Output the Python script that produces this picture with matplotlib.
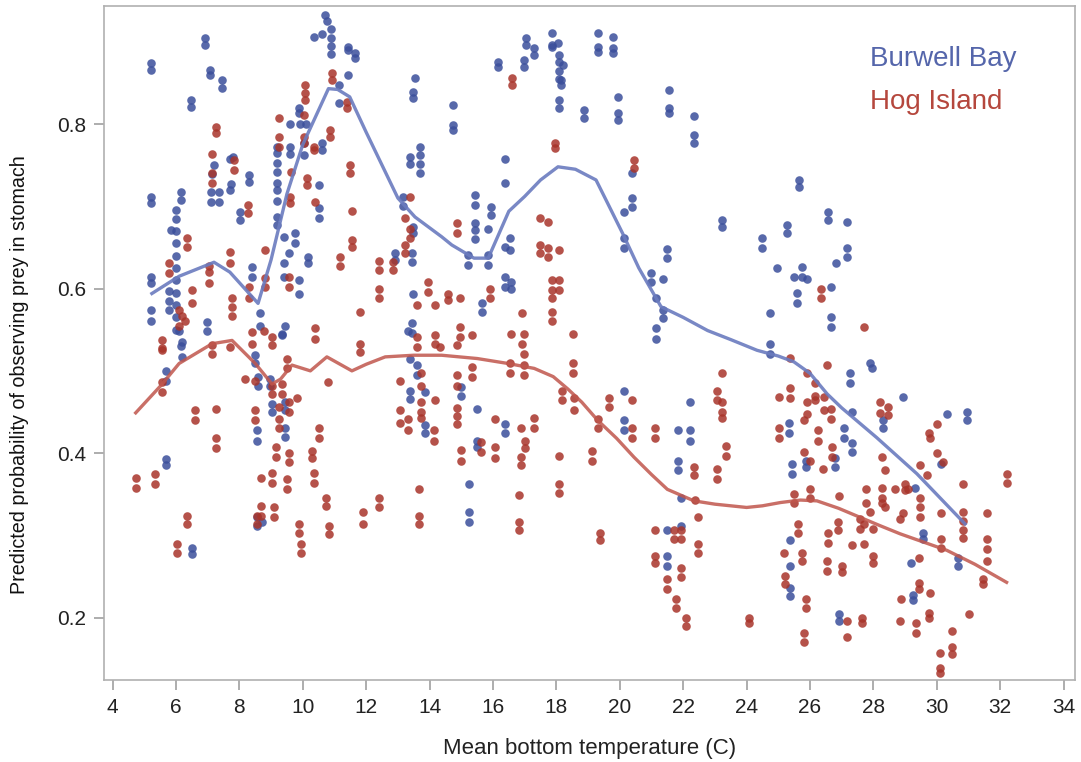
import matplotlib
matplotlib.use('Agg')
import matplotlib.pyplot as plt
import numpy as np

plt.rcParams['font.family'] = ['Liberation Sans', 'DejaVu Sans']

# observed points (temperature C, predicted probability)
burwell_obs = [
    (5.2, .874), (5.2, .866), (5.2, .614), (5.2, .607), (5.2, .574), (5.2, .561), (5.2, .711), (5.2, .704),
    (5.68, .393), (5.68, .385), (5.68, .50), (5.68, .488),
    (6.0, .695), (6.0, .685), (6.0, .67), (6.0, .655), (6.0, .64), (6.0, .625), (6.0, .61), (6.0, .595),
    (6.0, .58), (6.0, .565), (6.0, .55), (5.83, .671), (6.15, .717), (6.15, .708),
    (6.46, .829), (6.46, .821), (6.93, .905), (6.93, .896), (7.07, .866), (7.07, .86), (7.46, .854), (7.46, .844),
    (7.1, .717), (7.1, .705), (7.35, .717), (7.35, .705), (7.14, .739), (7.2, .75),
    (7.7, .757), (7.8, .76), (7.75, .727), (7.7, .72),
    (8.3, .738), (8.3, .729), (8.03, .693), (8.03, .683), (8.4, .626), (8.4, .614), (8.65, .57), (8.65, .555),
    (9.2, .772), (9.2, .765), (9.2, .753), (9.2, .742), (9.2, .728), (9.2, .72), (9.2, .707), (9.2, .687), (9.2, .677),
    (9.6, .772), (9.6, .764), (9.6, .80), (9.9, .80), (10.1, .80), (9.88, .82), (9.88, .813), (10.03, .777), (10.03, .762),
    (10.5, .726), (10.5, .698), (10.5, .686), (10.6, .777), (10.6, .768),
    (9.4, .663), (9.76, .667), (9.76, .656), (10.18, .638), (10.18, .631), (9.4, .631), (9.4, .614), (9.56, .643),
    (9.87, .61), (9.87, .594), (5.78, .597), (5.78, .585), (5.78, .574), (6.99, .559), (6.99, .549), (6.2, .535),
    (9.45, .555), (9.35, .545), (9.35, .543),
    (10.7, .933), (10.6, .91), (10.75, .925), (10.9, .915), (10.9, .905), (10.9, .895), (10.9, .885), (10.34, .906),
    (11.44, .894), (11.44, .89), (11.65, .886), (11.65, .88), (11.44, .86), (11.13, .825), (11.13, .847),
    (13.54, .856), (13.49, .839), (13.49, .832),
    (13.7, .772), (13.7, .762), (13.38, .76), (13.38, .752), (13.7, .752), (13.7, .74),
    (13.17, .711), (13.17, .70), (13.49, .675), (13.49, .667), (13.43, .643), (13.43, .632), (13.49, .594),
    (13.43, .558), (13.43, .546), (12.9, .643), (12.9, .635),
    (6.1, .549), (6.15, .53), (6.2, .517), (8.5, .519), (8.5, .509), (8.6, .492), (8.6, .482), (8.97, .49), (8.97, .482),
    (9.03, .46), (9.03, .45), (9.44, .462), (9.44, .452), (8.56, .428), (8.56, .415), (9.44, .43), (9.44, .42),
    (13.33, .548), (13.38, .515), (13.59, .507), (13.59, .495), (13.38, .476), (13.38, .466), (13.85, .474),
    (13.85, .434), (13.85, .425), (8.56, .322), (8.56, .312), (8.72, .316), (6.52, .285), (6.52, .277),
    (14.74, .823), (14.74, .799), (14.74, .793),
    (16.16, .875), (16.16, .869), (16.98, .878), (16.98, .869), (17.05, .905), (17.05, .896), (17.3, .892), (17.3, .884),
    (17.86, .911), (17.86, .896), (17.86, .893), (18.05, .898), (18.07, .884), (18.07, .875), (18.07, .864),
    (18.07, .855), (18.2, .872), (18.15, .854), (18.15, .847), (18.07, .829), (18.07, .819), (18.88, .817),
    (18.88, .807), (19.32, .911), (19.32, .894), (19.32, .888), (19.77, .906), (19.77, .892), (19.77, .886),
    (19.93, .833), (19.93, .813), (19.93, .805), (21.56, .841), (21.56, .82), (21.56, .813), (22.34, .81),
    (22.34, .787), (22.34, .777),
    (16.39, .757), (16.39, .728), (15.43, .714), (15.43, .701), (15.95, .699), (15.95, .689), (15.43, .68),
    (15.43, .671), (15.43, .66), (15.85, .673), (15.2, .641), (15.2, .629), (15.85, .641), (15.85, .629),
    (16.53, .661), (16.53, .647), (16.37, .65), (16.37, .614), (16.37, .602), (16.58, .608), (16.58, .60),
    (15.64, .583), (15.64, .571),
    (20.4, .74), (20.4, .71), (20.4, .699), (20.14, .693), (20.14, .661), (20.14, .649), (20.98, .619), (20.98, .608),
    (21.35, .612), (21.14, .589), (21.35, .574), (21.35, .564), (21.14, .552), (21.14, .539), (21.5, .648),
    (21.5, .637), (23.23, .683), (23.23, .675), (24.5, .661), (24.5, .649), (24.97, .625), (24.75, .57),
    (24.75, .533), (24.75, .521),
    (15.0, .48), (15.0, .47), (15.5, .454), (16.37, .436), (16.37, .425), (15.5, .415), (15.5, .407), (15.24, .362),
    (15.24, .328), (15.24, .316), (20.12, .475), (20.12, .44), (20.12, .428), (22.22, .462), (21.82, .428),
    (22.22, .428), (22.22, .415), (21.82, .391), (21.82, .379), (21.92, .345), (21.5, .306), (21.92, .312),
    (21.5, .275), (21.5, .263),
    (25.65, .732), (25.65, .724), (26.57, .693), (26.57, .683), (27.17, .681), (25.26, .677), (25.26, .667),
    (27.17, .649), (27.17, .638), (26.83, .631), (25.74, .626), (25.74, .614), (25.48, .614), (25.9, .612),
    (25.6, .595), (25.6, .583), (26.67, .602), (26.67, .565), (26.67, .553), (27.9, .51), (27.95, .503),
    (27.27, .497), (27.27, .485), (28.94, .468), (27.32, .45), (28.3, .44), (28.3, .43), (30.33, .448),
    (30.96, .45), (30.96, .44), (25.33, .437), (25.33, .425), (27.06, .43), (27.06, .418), (27.32, .412),
    (27.32, .401), (26.8, .394), (26.8, .383), (25.44, .387), (25.44, .375), (25.86, .391), (25.86, .383),
    (30.14, .387), (29.3, .358), (29.57, .303), (29.57, .296), (25.38, .294), (25.38, .263), (25.38, .236),
    (25.38, .227), (29.17, .266), (30.66, .272), (30.66, .263), (29.24, .228), (29.24, .221), (26.9, .205),
    (26.9, .196),
]

hog_obs = [
    (10.92, .862), (10.92, .854), (10.08, .847), (10.08, .838), (10.08, .829), (11.39, .827), (11.39, .819),
    (9.24, .807), (10.03, .811), (7.25, .796), (7.25, .789), (10.03, .784), (10.03, .777), (9.24, .784),
    (9.24, .772), (10.34, .772), (10.34, .768), (10.85, .793), (10.85, .784), (7.14, .763), (7.14, .74),
    (7.14, .728), (7.83, .756), (7.83, .744), (9.64, .742), (11.5, .75), (11.5, .74), (10.13, .734), (10.13, .726),
    (9.6, .711), (9.6, .704), (10.39, .705), (8.27, .701), (8.27, .692), (11.55, .694), (6.36, .662), (6.36, .65),
    (7.04, .628), (7.04, .62), (7.04, .607), (5.78, .631), (5.78, .619), (7.72, .644), (7.72, .631), (8.82, .647),
    (8.3, .602), (8.3, .589), (8.82, .613), (8.82, .602), (9.55, .614), (9.55, .602), (11.55, .659), (11.55, .65),
    (11.18, .638), (11.18, .628), (12.39, .634), (12.39, .622), (12.86, .632), (12.86, .622), (13.38, .711),
    (13.22, .686), (13.38, .673), (13.38, .661), (13.22, .653), (13.22, .643), (13.96, .608), (13.96, .596),
    (13.59, .58), (14.17, .58), (14.59, .594), (14.59, .586), (12.39, .60), (12.39, .588), (11.81, .571),
    (10.39, .552), (10.39, .539), (11.81, .533), (6.52, .598), (6.52, .583), (6.1, .574), (6.2, .567), (6.3, .56),
    (6.1, .555), (7.77, .589), (7.77, .578), (7.77, .567), (8.77, .549), (8.4, .547), (8.4, .533), (9.03, .541),
    (9.03, .531), (5.57, .537), (5.57, .528),
    (5.55, .525), (7.14, .531), (7.14, .521), (7.72, .529), (11.81, .523), (14.17, .543), (14.17, .533),
    (14.33, .529), (13.59, .541), (13.59, .529),
    (5.55, .486), (5.55, .474), (8.17, .49), (8.5, .488), (9.03, .482), (9.03, .472), (9.35, .484), (9.35, .472),
    (9.5, .515), (9.5, .503), (10.78, .486), (9.82, .467), (9.55, .462), (9.55, .45), (9.24, .456), (9.24, .442),
    (9.24, .43), (8.49, .452), (8.49, .44), (6.6, .452), (6.6, .44), (7.25, .454), (7.25, .418), (7.25, .406),
    (4.73, .37), (4.73, .358), (5.34, .375), (5.34, .363), (6.36, .324), (6.36, .314), (6.04, .29), (6.04, .279),
    (8.67, .37), (9.03, .376), (9.03, .364), (9.14, .407), (9.14, .395), (9.55, .40), (9.55, .389), (9.5, .369),
    (9.5, .357), (8.67, .336), (8.67, .324), (8.56, .324), (8.56, .314), (9.08, .334), (9.08, .322), (9.87, .314),
    (9.87, .303), (9.95, .29), (9.95, .279), (10.29, .403), (10.29, .394), (10.34, .376), (10.34, .364),
    (10.5, .431), (10.5, .419), (10.73, .346), (10.73, .336), (10.83, .312), (10.83, .302), (11.91, .328),
    (11.91, .314), (12.4, .345), (12.4, .334), (13.07, .488), (13.07, .452), (13.07, .437), (13.33, .442),
    (13.33, .428), (13.73, .498), (13.73, .482), (13.73, .462), (13.73, .45), (13.73, .443), (14.17, .465),
    (14.15, .428), (14.15, .415), (13.66, .357), (13.66, .324), (13.66, .314),
    (16.6, .856), (16.6, .847), (17.96, .777), (17.96, .771), (20.45, .756), (20.45, .746), (14.85, .68),
    (14.85, .668), (17.47, .686), (17.75, .681), (17.47, .653), (17.47, .643), (17.75, .649), (17.75, .638),
    (18.07, .647), (14.97, .589), (15.9, .60), (15.9, .588), (17.85, .61), (17.85, .598), (18.07, .61),
    (18.07, .598), (17.86, .588), (17.86, .571), (17.86, .561), (16.92, .57), (14.95, .553), (14.95, .541),
    (15.34, .543), (16.56, .545), (16.98, .545), (18.52, .545), (14.85, .531), (16.92, .533),
    (16.98, .521), (14.85, .495), (14.85, .482), (15.34, .505), (15.34, .492), (16.55, .509), (16.55, .497),
    (16.98, .507), (16.98, .495), (18.52, .509), (18.52, .498), (14.85, .455), (14.85, .445), (14.85, .436),
    (16.06, .442), (16.87, .431), (17.3, .443), (17.3, .431), (18.17, .476), (18.17, .465), (18.57, .467),
    (18.57, .452), (19.65, .467), (19.65, .456), (20.4, .465), (19.32, .442), (19.32, .43), (20.4, .43),
    (20.4, .418), (21.11, .43), (21.11, .419), (23.23, .497), (23.08, .476), (23.08, .465), (23.23, .462),
    (23.23, .45), (23.23, .443), (23.34, .409), (23.34, .397), (22.34, .383), (22.34, .373), (23.08, .381),
    (23.08, .369), (25.02, .468), (25.02, .431), (25.02, .419), (15.62, .413), (15.62, .401), (14.98, .404),
    (14.98, .391), (16.06, .407), (16.06, .394), (16.87, .395), (16.87, .385), (17.0, .415), (17.0, .406),
    (18.07, .397), (19.11, .403), (19.11, .391), (16.82, .349), (18.07, .363), (18.07, .352), (16.82, .316),
    (16.82, .306), (19.39, .303), (19.39, .294), (21.11, .306), (21.7, .306), (21.7, .296), (21.92, .306),
    (21.92, .296), (21.11, .275), (21.11, .266), (21.94, .26), (21.94, .249), (21.5, .247), (21.5, .235),
    (21.77, .223), (21.77, .212), (22.1, .20), (22.1, .19), (24.07, .20), (24.07, .193), (22.36, .343),
    (22.48, .322), (22.48, .29), (22.48, .279),
    (26.35, .60), (26.35, .588), (27.71, .553), (25.38, .516), (26.52, .507), (25.9, .498), (26.17, .485),
    (26.17, .47), (26.17, .464), (26.43, .468), (26.43, .452), (25.36, .479), (25.36, .467), (25.9, .462),
    (25.9, .448), (26.67, .454), (26.67, .442), (25.8, .44), (26.24, .428), (26.24, .415), (25.8, .401),
    (26.0, .391), (26.69, .407), (26.69, .395), (26.4, .381), (28.2, .462), (28.2, .449), (28.47, .456),
    (28.47, .446), (28.27, .395), (28.37, .379), (29.99, .436), (29.75, .424), (29.8, .418), (30.0, .40),
    (30.2, .389), (29.47, .385), (29.68, .373), (30.83, .362), (32.22, .375), (32.22, .364), (25.49, .35),
    (25.49, .34), (26.0, .356), (26.0, .345), (26.9, .348), (27.77, .356), (27.77, .34), (28.27, .358),
    (28.27, .345), (28.27, .339), (28.37, .334), (28.68, .356), (29.0, .363), (29.0, .355), (29.1, .356),
    (29.47, .346), (29.47, .334), (29.47, .322), (28.94, .327), (28.84, .32), (30.14, .327), (30.81, .328),
    (30.81, .318), (30.81, .307), (30.81, .297), (31.57, .327), (31.57, .296), (31.57, .283), (31.57, .269),
    (30.14, .296), (30.14, .285), (26.87, .316), (26.87, .306), (27.58, .32), (27.58, .308), (27.9, .328),
    (27.71, .314), (27.71, .29), (28.0, .308), (25.62, .314), (25.62, .303), (26.57, .303), (26.57, .291),
    (27.32, .288), (25.17, .279), (25.75, .279), (25.75, .269), (27.98, .275), (27.98, .267), (29.45, .273),
    (26.52, .269), (26.52, .257), (27.0, .263), (27.0, .255), (25.2, .251), (25.2, .241), (31.45, .247),
    (31.45, .241), (25.86, .223), (25.86, .212), (29.45, .242), (29.45, .235), (29.79, .23), (28.86, .223),
    (27.17, .196), (27.64, .20), (27.64, .193), (28.84, .196), (29.76, .206), (29.76, .2), (31.02, .205),
    (25.8, .181), (25.8, .17), (27.17, .176), (29.33, .193), (29.33, .182), (30.49, .184), (30.49, .164),
    (30.49, .156), (30.1, .157), (30.1, .139), (30.1, .133),
]

# smoothed fits
burwell_fit_temp = [5.24, 6.1, 7.2, 7.7, 8.59, 9.0, 9.5, 10.0, 10.81, 11.1, 11.48, 12.0, 12.5, 13.0, 13.54,
                    14.38, 14.7, 15.4, 15.85, 16.5, 17.0, 17.5, 18.05, 18.6, 19.25, 19.6, 20.09, 20.6,
                    21.3, 22.0, 22.77, 23.5, 24.33, 25.0, 25.49, 26.0, 26.54, 27.0, 28.1, 29.37, 30.89]
burwell_fit_prob = [.594, .615, .632, .62, .582, .635, .715, .775, .843, .842, .833, .79, .75, .71, .687,
                    .663, .653, .637, .637, .694, .712, .732, .748, .745, .732, .705, .667, .625,
                    .578, .565, .549, .538, .525, .518, .511, .497, .472, .455, .419, .375, .314]

hog_fit_temp = [4.73, 5.52, 6.1, 7.14, 7.77, 8.5, 9.03, 9.3, 9.66, 10.24, 10.76, 11.55, 12.0, 12.6, 13.5,
                14.38, 15.5, 16.47, 17.3, 17.9, 18.36, 18.8, 19.3, 19.9, 20.45, 21.0, 21.5, 22.34, 23.0,
                24.0, 24.5, 25.07, 25.7, 26.22, 26.9, 27.58, 28.2, 28.84, 29.5, 30.31, 31.2, 32.2]
hog_fit_prob = [.449, .482, .509, .533, .537, .509, .484, .49, .507, .50, .517, .50, .508, .517, .519,
                .519, .515, .509, .503, .493, .478, .462, .44, .418, .395, .374, .356, .342, .338,
                .334, .336, .34, .343, .342, .333, .322, .312, .302, .293, .282, .265, .243]

bb_t, bb_p = np.array(burwell_obs).T
hi_t, hi_p = np.array(hog_obs).T

blue_pt = '#3b4f9b'
red_pt = '#a8342a'
blue_line = '#6a7bbf'
red_line = '#c0564c'

fig = plt.figure(figsize=(10.81, 7.62), dpi=100)
ax = fig.add_axes([0.0965, 0.1076, 0.898, 0.8845])

ax.scatter(bb_t, bb_p, s=38, color=blue_pt, alpha=0.85, linewidths=0, zorder=2)
ax.scatter(hi_t, hi_p, s=38, color=red_pt, alpha=0.85, linewidths=0, zorder=2)
ax.plot(burwell_fit_temp, burwell_fit_prob, color=blue_line, lw=2.4, alpha=0.9, zorder=3)
ax.plot(hog_fit_temp, hog_fit_prob, color=red_line, lw=2.4, alpha=0.85, zorder=3)

ax.set_xlim(3.74, 34.36)
ax.set_ylim(0.1243, 0.9434)
ax.set_xticks(range(4, 35, 2))
ax.set_yticks([0.2, 0.4, 0.6, 0.8])
ax.set_yticklabels(['0.2', '0.4', '0.6', '0.8'])

for s in ax.spines.values():
    s.set_color('#b0b0b0')
    s.set_linewidth(1.2)
ax.tick_params(colors='#a0a0a0', labelcolor='#222222', labelsize=15, length=7, width=1.2, pad=6)

ax.set_xlabel('Mean bottom temperature (C)', fontsize=16, color='#222222', labelpad=15)
ax.set_ylabel('Predicted probability of observing prey in stomach', fontsize=14.2, color='#111111')
ax.yaxis.set_label_coords(-0.078, 0.4525)

ax.text(0.789, 0.921, 'Burwell Bay', transform=ax.transAxes, color='#5566ab', fontsize=20, va='center')
ax.text(0.789, 0.857, 'Hog Island', transform=ax.transAxes, color='#b5473d', fontsize=20, va='center')

fig.savefig('out.png', dpi=100)
